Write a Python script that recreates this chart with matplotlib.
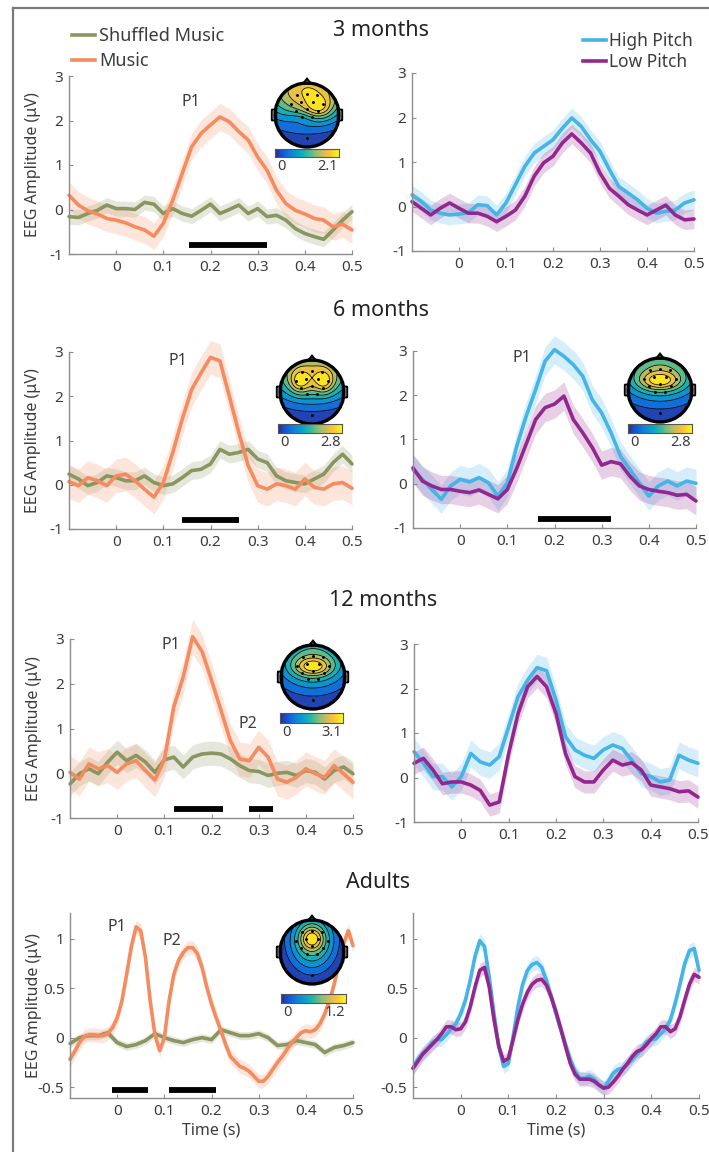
import numpy as np
import matplotlib
matplotlib.use("Agg")
import matplotlib.pyplot as plt
from matplotlib.colors import LinearSegmentedColormap
from matplotlib.patches import Circle, Polygon, FancyBboxPatch
from matplotlib.lines import Line2D

plt.rcParams['font.family'] = ['Noto Sans', 'DejaVu Sans']
plt.rcParams['axes.unicode_minus'] = False

W, H = 709, 1152

# time grids (s)
t20 = np.round(np.arange(-0.1, 0.5001, 0.02), 2)
t10 = np.round(np.arange(-0.1, 0.5001, 0.01), 2)

# ---- 3 months ----
m3_music = [0.32, 0.10, -0.03, -0.10, -0.20, -0.24, -0.30, -0.39, -0.46, -0.60, -0.31,
            0.21, 0.81, 1.41, 1.71, 1.90, 2.08, 1.97, 1.75, 1.56, 1.18,
            0.88, 0.43, 0.13, -0.02, -0.10, -0.20, -0.24, -0.39, -0.33, -0.46]
m3_shuffled = [-0.16, -0.18, -0.09, -0.02, 0.10, 0.02, 0.02, 0.00, 0.16, 0.12, -0.09,
               0.02, -0.09, -0.15, -0.02, 0.12, -0.09, 0.00, 0.10, -0.09, 0.02,
               -0.16, -0.13, -0.24, -0.43, -0.54, -0.61, -0.67, -0.46, -0.24, -0.05]
m3_high = [0.26, 0.11, -0.08, -0.15, -0.19, -0.17, -0.14, 0.04, 0.02, -0.19, 0.08,
           0.49, 0.90, 1.20, 1.35, 1.50, 1.76, 1.99, 1.80, 1.50, 1.24,
           0.83, 0.45, 0.30, 0.15, -0.04, -0.15, -0.11, -0.08, 0.08, 0.15]
m3_low = [0.11, -0.04, -0.19, -0.04, 0.08, -0.04, -0.15, -0.15, -0.22, -0.34, -0.22,
          -0.08, 0.23, 0.68, 0.98, 1.13, 1.43, 1.63, 1.43, 1.20, 0.75,
          0.41, 0.23, 0.04, -0.08, -0.19, -0.08, 0.03, -0.19, -0.30, -0.28]

# ---- 6 months ----
m6_music = [0.07, -0.02, 0.16, 0.09, -0.02, 0.20, 0.24, 0.09, -0.10, -0.28, 0.05,
            0.73, 1.48, 2.15, 2.53, 2.88, 2.80, 2.00, 1.18, 0.43, -0.02,
            -0.10, 0.02, -0.02, -0.10, 0.13, -0.06, -0.10, 0.02, 0.05, -0.08]
m6_shuffled = [0.24, 0.13, -0.02, 0.05, 0.20, 0.16, 0.09, 0.09, 0.20, 0.05, -0.02,
               0.02, 0.16, 0.32, 0.35, 0.47, 0.80, 0.69, 0.73, 0.80, 0.58,
               0.50, 0.20, 0.09, 0.05, 0.02, 0.13, 0.24, 0.50, 0.69, 0.47]
m6_high = [0.32, 0.10, -0.13, -0.35, -0.05, 0.10, 0.04, 0.14, 0.02, -0.28, 0.02,
           0.85, 1.53, 2.13, 2.77, 3.03, 2.88, 2.69, 2.43, 1.90, 1.60,
           1.15, 0.62, 0.32, 0.02, -0.28, -0.05, 0.06, -0.05, 0.06, 0.01]
m6_low = [0.36, 0.06, -0.05, -0.13, -0.13, -0.17, -0.20, -0.14, -0.24, -0.34, -0.13,
          0.35, 0.90, 1.45, 1.72, 1.80, 1.98, 1.45, 1.15, 0.82, 0.42,
          0.50, 0.45, 0.17, -0.05, -0.13, -0.17, -0.20, -0.26, -0.24, -0.39]

# ---- 12 months ----
m12_music = [0.02, -0.13, 0.21, 0.10, 0.17, 0.02, 0.21, 0.28, 0.06, -0.15, 0.30,
             1.48, 2.15, 3.05, 2.72, 2.08, 1.41, 0.73, 0.32, 0.28, 0.58,
             0.36, -0.13, -0.20, -0.09, 0.10, -0.01, -0.09, 0.17, -0.01, -0.20]
m12_shuffled = [-0.24, -0.01, 0.10, -0.01, 0.25, 0.47, 0.28, 0.40, 0.25, 0.02, 0.30,
                0.36, 0.14, 0.36, 0.43, 0.45, 0.43, 0.32, 0.17, 0.06, 0.04,
                -0.05, 0.00, 0.02, -0.05, 0.06, 0.02, -0.13, 0.06, 0.14, -0.01]
m12_high = [0.58, 0.32, 0.02, 0.02, -0.21, 0.02, 0.54, 0.35, 0.28, 0.47, 1.14,
            1.82, 2.19, 2.47, 2.40, 1.74, 0.92, 0.62, 0.50, 0.43, 0.62,
            0.73, 0.65, 0.39, 0.09, 0.02, -0.10, -0.06, 0.50, 0.39, 0.32]
m12_low = [0.32, 0.43, 0.17, -0.14, -0.10, -0.10, -0.17, -0.29, -0.62, -0.55, 0.54,
           1.44, 2.04, 2.27, 2.04, 1.44, 0.54, 0.02, -0.10, -0.10, 0.17,
           0.39, 0.28, 0.33, 0.17, -0.17, -0.21, -0.25, -0.32, -0.30, -0.44]

# ---- Adults ----
ad_shuffled = [-0.06, 0.00, 0.02, 0.02, 0.05, -0.05, -0.09, -0.07, -0.03, 0.04, 0.00,
               -0.03, -0.05, -0.02, 0.00, -0.02, 0.08, 0.05, 0.02, 0.02, 0.04,
               0.00, -0.08, -0.07, -0.03, -0.05, -0.07, -0.15, -0.10, -0.08, -0.05]
ad_music = [-0.22, -0.14, -0.05, 0.01, 0.03, 0.03, 0.02, 0.02, 0.04, 0.10,
            0.20, 0.37, 0.64, 0.92, 1.12, 1.08, 0.81, 0.37, 0.03, -0.13,
            0.00, 0.37, 0.64, 0.78, 0.86, 0.91, 0.91, 0.85, 0.71, 0.51,
            0.34, 0.20, 0.07, -0.07, -0.19, -0.24, -0.29, -0.31, -0.34, -0.39,
            -0.44, -0.44, -0.39, -0.32, -0.25, -0.19, -0.12, -0.05, 0.00, 0.05,
            0.07, 0.06, 0.08, 0.14, 0.24, 0.37, 0.54, 0.75, 0.95, 1.08, 0.93]
ad_high = [-0.31, -0.22, -0.16, -0.11, -0.05, -0.02, -0.02, 0.03, 0.09, 0.14,
           0.24, 0.38, 0.58, 0.82, 0.98, 0.92, 0.61, 0.24, -0.09, -0.29,
           -0.26, 0.01, 0.31, 0.54, 0.68, 0.74, 0.76, 0.71, 0.58, 0.41,
           0.24, 0.08, -0.07, -0.22, -0.34, -0.41, -0.41, -0.39, -0.42, -0.47,
           -0.51, -0.44, -0.36, -0.32, -0.31, -0.27, -0.22, -0.17, -0.11, -0.04,
           -0.02, -0.01, 0.04, 0.09, 0.18, 0.35, 0.54, 0.75, 0.88, 0.90, 0.68]
ad_low = [-0.31, -0.24, -0.17, -0.12, -0.07, -0.02, 0.04, 0.11, 0.11, 0.08,
          0.09, 0.16, 0.31, 0.51, 0.68, 0.71, 0.51, 0.18, -0.09, -0.24,
          -0.21, -0.02, 0.18, 0.34, 0.46, 0.54, 0.58, 0.59, 0.53, 0.41,
          0.26, 0.09, -0.09, -0.26, -0.37, -0.42, -0.42, -0.42, -0.44, -0.48,
          -0.51, -0.50, -0.45, -0.39, -0.32, -0.26, -0.19, -0.14, -0.12, -0.07,
          -0.01, 0.04, 0.11, 0.11, 0.06, 0.09, 0.21, 0.38, 0.54, 0.64, 0.61]

# standard-error half widths (uV)
sem_left = [(0.17, 0.30), (0.20, 0.38), (0.27, 0.38), (0.04, 0.07)]   # (shuffled, music)
sem_right = [(0.22, 0.22), (0.32, 0.32), (0.30, 0.25), (0.07, 0.07)]  # (high, low)

# significant windows (s)
sig_left = [[(0.155, 0.32)], [(0.14, 0.26)], [(0.12, 0.225), (0.28, 0.33)], [(-0.01, 0.065), (0.11, 0.21)]]
sig_right = [[], [(0.165, 0.32)], [], []]

# peak labels (text, time, amplitude)
peaks_left = [[('P1', 0.158, 2.42)], [('P1', 0.13, 2.8)],
              [('P1', 0.113, 2.87), ('P2', 0.277, 1.11)],
              [('P1', 0.0, 1.12), ('P2', 0.116, 0.98)]]
peaks_right = [[], [('P1', 0.13, 2.84)], [], []]

titles = ['3 months', '6 months', '12 months', 'Adults']
topo_max = {'m3': '2.1', 'm6': '2.8', 'm6r': '2.8', 'm12': '3.1', 'ad': '1.2'}

# scalp-map blobs: (x, y, sx, sy, amp)
topo_src = {
    'm3': [(0.0, 0.75, 1.1, 0.75, 1.0), (0.38, 0.22, 0.3, 0.25, 0.35), (-0.2, -0.1, 0.35, 0.15, -0.12)],
    'm6': [(0.0, 0.6, 1.1, 0.7, 0.9), (-0.38, 0.32, 0.22, 0.25, 0.35), (0.38, 0.32, 0.22, 0.25, 0.35)],
    'm6r': [(0.0, 0.55, 1.0, 0.7, 0.8), (0.0, 0.28, 0.45, 0.2, 0.45)],
    'm12': [(0.0, 0.5, 0.9, 0.7, 0.75), (0.0, 0.32, 0.4, 0.2, 0.5)],
    'ad': [(0.0, 0.35, 0.6, 0.75, 0.75), (0.0, 0.42, 0.25, 0.25, 0.45)],
}
electrodes = [(-0.3, 0.62), (0.0, 0.66), (0.3, 0.62), (-0.5, 0.35), (-0.2, 0.4), (0.2, 0.4),
              (0.5, 0.35), (-0.35, 0.12), (0.0, 0.2), (0.35, 0.12), (-0.15, -0.05),
              (0.15, -0.05), (0.0, -0.72)]

C_GREEN = '#8a9660'
C_ORANGE = '#f58b5e'
C_BLUE = '#45b4e6'
C_PURPLE = '#93278f'
C_AX = '#8c8c8c'
C_TXT = '#3c3c3c'

parula = LinearSegmentedColormap.from_list(
    'parula', ['#352a87', '#0f5cdd', '#1481d6', '#06a4ca', '#2eb7a4',
               '#87bf77', '#d1bb59', '#fec832', '#f9fb0e'])

fig = plt.figure(figsize=(W / 100, H / 100), dpi=100)


def px_axes(x0, y0, x1, y1, **kw):
    return fig.add_axes([x0 / W, 1 - y1 / H, (x1 - x0) / W, (y1 - y0) / H], **kw)


def erp(ax, t, y, sem, color):
    y = np.asarray(y)
    ax.fill_between(t, y - sem, y + sem, color=color, alpha=0.22, lw=0, clip_on=False)
    ax.plot(t, y, color=color, lw=2.6, solid_capstyle='round', solid_joinstyle='round',
            clip_on=False)


def style(ax, adult):
    ax.set_xlim(-0.1, 0.5)
    ax.set_xticks([0, 0.1, 0.2, 0.3, 0.4, 0.5])
    ax.set_xticklabels(['0', '0.1', '0.2', '0.3', '0.4', '0.5'])
    if adult:
        ax.set_ylim(-0.61, 1.26)
        ax.set_yticks([-0.5, 0, 0.5, 1])
        ax.set_yticklabels(['-0.5', '0', '0.5', '1'])
    else:
        ax.set_ylim(-1, 3)
        ax.set_yticks([-1, 0, 1, 2, 3])
        ax.set_yticklabels(['-1', '0', '1', '2', '3'])
    for s in ['top', 'right']:
        ax.spines[s].set_visible(False)
    for s in ['left', 'bottom']:
        ax.spines[s].set_color(C_AX)
        ax.spines[s].set_linewidth(1.0)
    ax.tick_params(direction='in', length=3, width=0.8, color=C_AX,
                   labelcolor=C_TXT, labelsize=11, pad=4)
    ax.patch.set_alpha(0)


def topo(cx, cy, key, cbox):
    ax = px_axes(cx - 40, cy - 40, cx + 40, cy + 40)
    ax.set_xlim(-1.25, 1.25)
    ax.set_ylim(-1.25, 1.25)
    ax.axis('off')
    g = np.linspace(-1.02, 1.02, 220)
    X, Y = np.meshgrid(g, g)
    F = np.zeros_like(X)
    for (x0, y0, sx, sy, a) in topo_src[key]:
        F += a * np.exp(-((X - x0) ** 2 / (2 * sx ** 2) + (Y - y0) ** 2 / (2 * sy ** 2)))
    inside = X ** 2 + Y ** 2 <= 1.0
    F = (F - F[inside].min()) / (F[inside].max() - F[inside].min())
    clip = Circle((0, 0), 1.0, transform=ax.transData)
    lv = np.linspace(0, 1, 9)
    cf = ax.contourf(X, Y, F, levels=lv, cmap=parula, extend='both')
    cf.set_clip_path(clip)
    cl = ax.contour(X, Y, F, levels=lv[1:-1], colors='k', linewidths=0.55)
    cl.set_clip_path(clip)
    ax.add_patch(Polygon([(-0.12, 0.98), (0, 1.13), (0.12, 0.98)], closed=True,
                         fc='white', ec='k', lw=1.6, zorder=1))
    for sx in (-1, 1):
        ax.add_patch(FancyBboxPatch((sx * 1.03 - 0.05, -0.15), 0.10, 0.30,
                                    boxstyle='round,pad=0.02', fc='white', ec='k', lw=1.4, zorder=1))
    ax.add_patch(Circle((0, 0), 1.0, fc='none', ec='k', lw=2.4, zorder=5))
    ex, ey = zip(*electrodes)
    ax.scatter(ex, ey, s=1.2, c='k', zorder=6)
    # colour bar
    x0, y0, x1, y1 = cbox
    cax = px_axes(x0, y0, x1, y1)
    cax.imshow(np.linspace(0, 1, 256)[None, :], aspect='auto', cmap=parula, extent=(0, 1, 0, 1))
    cax.set_xticks([])
    cax.set_yticks([])
    for s in cax.spines.values():
        s.set_color('#555555')
        s.set_linewidth(0.8)
    fig.text((x0 + 2) / W, 1 - (y1 + 10) / H, '0', ha='left', va='center', fontsize=10.5, color=C_TXT)
    fig.text((x1 - 1) / W, 1 - (y1 + 10) / H, topo_max[key], ha='right', va='center', fontsize=10.5, color=C_TXT)


left_boxes = [(69, 76, 352, 254), (69, 352, 352, 529), (70, 639, 353, 818), (70, 913, 353, 1098)]
right_boxes = [(412, 73, 694, 251), (413, 351, 696, 528), (414, 644, 698, 822), (413, 913, 699, 1098)]
title_pos = [(381, 30), (381, 310), (383, 600), (378, 883)]

left_data = [(m3_shuffled, m3_music), (m6_shuffled, m6_music), (m12_shuffled, m12_music)]
right_data = [(m3_high, m3_low), (m6_high, m6_low), (m12_high, m12_low)]

for i in range(4):
    adult = i == 3
    axl = px_axes(*left_boxes[i])
    axr = px_axes(*right_boxes[i])
    if adult:
        erp(axl, t20, ad_shuffled, sem_left[i][0], C_GREEN)
        erp(axl, t10, ad_music, sem_left[i][1], C_ORANGE)
        erp(axr, t10, ad_high, sem_right[i][0], C_BLUE)
        erp(axr, t10, ad_low, sem_right[i][1], C_PURPLE)
    else:
        erp(axl, t20, left_data[i][0], sem_left[i][0], C_GREEN)
        erp(axl, t20, left_data[i][1], sem_left[i][1], C_ORANGE)
        erp(axr, t20, right_data[i][0], sem_right[i][0], C_BLUE)
        erp(axr, t20, right_data[i][1], sem_right[i][1], C_PURPLE)
    bar_y = -0.525 if adult else -0.79
    for ax, sig in ((axl, sig_left[i]), (axr, sig_right[i])):
        for (a, b) in sig:
            ax.plot([a, b], [bar_y, bar_y], color='k', lw=4.2, solid_capstyle='butt')
    for ax, pk in ((axl, peaks_left[i]), (axr, peaks_right[i])):
        for (txt, tx, ty) in pk:
            ax.text(tx, ty, txt, ha='center', va='center', fontsize=11.5, color=C_TXT)
    style(axl, adult)
    style(axr, adult)
    axl.set_ylabel('EEG Amplitude (\u03bcV)', fontsize=11.5, color=C_TXT)
    axl.yaxis.set_label_coords(-0.1, 0.5)
    if adult:
        for ax in (axl, axr):
            ax.set_xlabel('Time (s)', fontsize=11.5, color=C_TXT)
            ax.xaxis.set_label_coords(0.5, -0.135)
    fig.text(title_pos[i][0] / W, 1 - title_pos[i][1] / H, titles[i],
             ha='center', va='center', fontsize=15.5, color='#222222')

topo(307, 115, 'm3', (275, 149, 339, 157))
topo(312, 392, 'm6', (278, 424, 342, 433))
topo(660, 390, 'm6r', (628, 424, 692, 433))
topo(313, 677, 'm12', (280, 713, 343, 723))
topo(312, 952, 'ad', (281, 994, 346, 1003))

# legends
fig.legend(handles=[Line2D([], [], color=C_GREEN, lw=2.6, label='Shuffled Music'),
                    Line2D([], [], color=C_ORANGE, lw=2.6, label='Music')],
           loc='upper left', bbox_to_anchor=(72 / W, 1 - 27 / H), frameon=False,
           fontsize=13, handlelength=1.3, handletextpad=0.2, labelspacing=0.4,
           borderaxespad=0, borderpad=0, labelcolor=C_TXT)
fig.legend(handles=[Line2D([], [], color=C_BLUE, lw=2.6, label='High Pitch'),
                    Line2D([], [], color=C_PURPLE, lw=2.6, label='Low Pitch')],
           loc='upper left', bbox_to_anchor=(583 / W, 1 - 32 / H), frameon=False,
           fontsize=12.5, handlelength=1.3, handletextpad=0.2, labelspacing=0.2,
           borderaxespad=0, borderpad=0, labelcolor=C_TXT)

# outer frame (left and top edges)
fig.add_artist(Line2D([13 / W, 13 / W], [0, 1 - 8 / H], transform=fig.transFigure, color='#7a7a7a', lw=1.6))
fig.add_artist(Line2D([13 / W, 1], [1 - 8 / H, 1 - 8 / H], transform=fig.transFigure, color='#7a7a7a', lw=1.6))

fig.savefig('out.png', dpi=100)
